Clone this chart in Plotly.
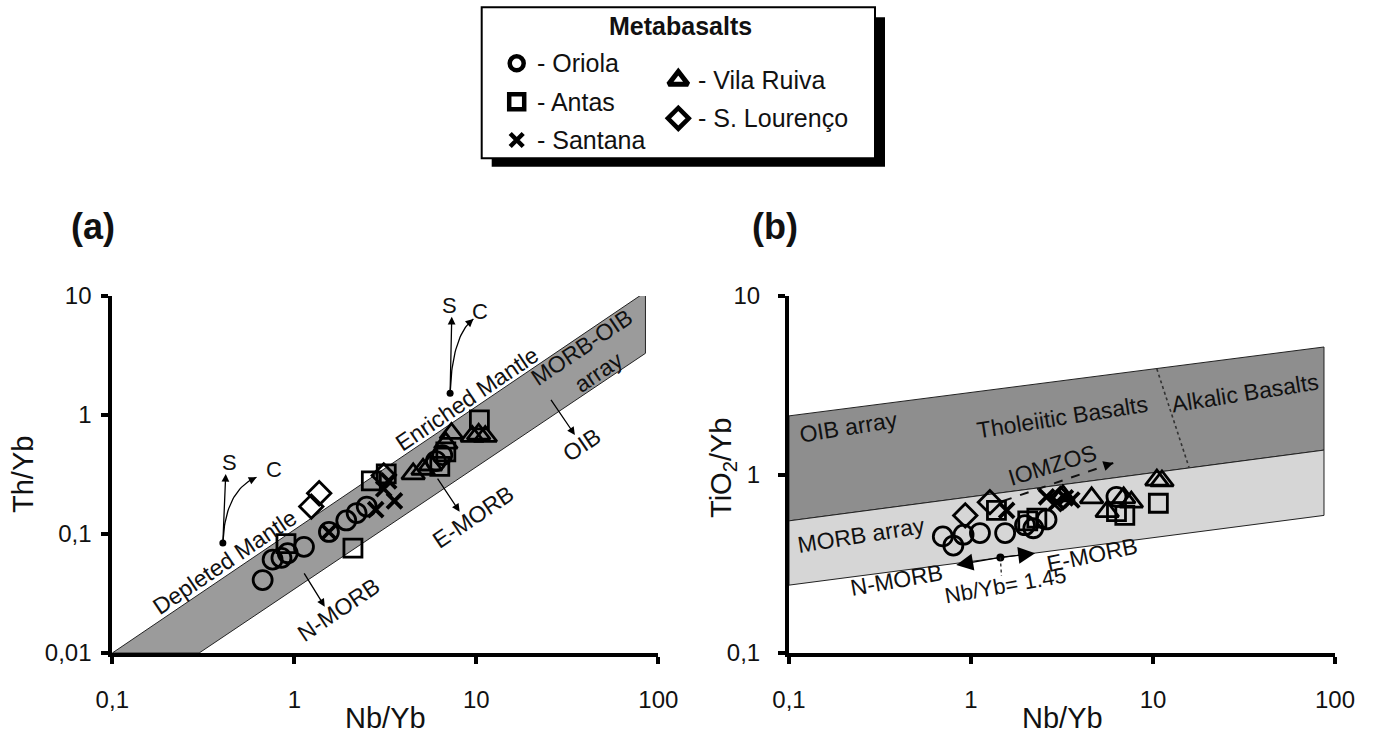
import numpy as np
import plotly.graph_objects as go

W, H = 1373, 735
FONT = "Liberation Sans"

# ---------------- data ----------------
# Panel (a): Nb/Yb vs Th/Yb
oriola_nb_a = [0.67, 0.76, 0.85, 0.92, 1.13, 1.55, 1.93, 2.2, 2.5, 6.0, 6.5]
oriola_th = [0.041, 0.061, 0.063, 0.069, 0.078, 0.104, 0.13, 0.15, 0.17, 0.41, 0.46]
antas_nb_a = [0.9, 2.1, 2.65, 3.2, 6.3, 6.8, 10.4]
antas_th = [0.083, 0.076, 0.28, 0.32, 0.37, 0.49, 0.91]
santana_nb_a = [1.55, 2.8, 3.1, 3.3, 3.55]
santana_th = [0.104, 0.16, 0.24, 0.28, 0.19]
vila_nb_a = [4.5, 5.1, 5.6, 6.8, 7.3, 9.5, 10.3, 11.2]
vila_th = [0.32, 0.35, 0.38, 0.58, 0.70, 0.66, 0.69, 0.66]
lour_nb_a = [1.24, 1.37, 3.1]
lour_th = [0.17, 0.22, 0.31]

# Panel (b): Nb/Yb vs TiO2/Yb
oriola_nb_b = [0.70, 0.80, 0.91, 1.12, 1.54, 1.98, 2.2, 2.6, 6.3]
oriola_ti = [0.45, 0.40, 0.46, 0.47, 0.47, 0.52, 0.50, 0.56, 0.75]
antas_nb_b = [1.38, 2.05, 2.3, 6.3, 7.0, 10.7]
antas_ti = [0.63, 0.55, 0.57, 0.62, 0.59, 0.69]
santana_nb_b = [1.57, 2.6, 2.96, 3.3, 3.58]
santana_ti = [0.63, 0.75, 0.70, 0.74, 0.72]
vila_nb_b = [3.2, 4.6, 5.6, 6.9, 7.6, 10.5, 11.2]
vila_ti = [0.76, 0.74, 0.62, 0.74, 0.70, 0.93, 0.92]
lour_nb_b = [0.93, 1.27, 3.1]
lour_ti = [0.59, 0.70, 0.73]

# reference arrays (boundary lines)
morb_oib_upper_x = [0.1, 85]
morb_oib_upper_y = [0.01, 10.8]
morb_oib_lower_x = [0.3, 85]
morb_oib_lower_y = [0.01, 3.3]
ti_x = [0.1, 87]
ti_top = [2.13, 5.18]
ti_mid = [0.55, 1.37]
ti_bot = [0.24, 0.59]
alk_div_x = [10.5, 15.8]
alk_div_y = [3.9, 1.09]

# axis ticks
x_ticks = [0.1, 1, 10, 100]
x_ticktext = ["0,1", "1", "10", "100"]
ya_ticks = [0.01, 0.1, 1, 10]
ya_ticktext = ["0,01", "0,1", "1", "10"]
yb_ticks = [0.1, 1, 10]
yb_ticktext = ["0,1", "1", "10"]

series = [
    ("Oriola", "circle-open", 19, 2.8),
    ("Antas", "square-open", 18, 2.8),
    ("Santana", "x-thin", 15, 3.8),
    ("Vila Ruiva", "triangle-up-open", 20, 2.8),
    ("S. Lourenço", "diamond-open", 18, 2.8),
]
data_a = {"Oriola": (oriola_nb_a, oriola_th), "Antas": (antas_nb_a, antas_th),
          "Santana": (santana_nb_a, santana_th), "Vila Ruiva": (vila_nb_a, vila_th),
          "S. Lourenço": (lour_nb_a, lour_th)}
data_b = {"Oriola": (oriola_nb_b, oriola_ti), "Antas": (antas_nb_b, antas_ti),
          "Santana": (santana_nb_b, santana_ti), "Vila Ruiva": (vila_nb_b, vila_ti),
          "S. Lourenço": (lour_nb_b, lour_ti)}

fig = go.Figure()
L = np.log10

# ---- bands ----
fig.add_trace(go.Scatter(
    x=[morb_oib_upper_x[0], morb_oib_upper_x[1], morb_oib_lower_x[1], morb_oib_lower_x[0], morb_oib_upper_x[0]],
    y=[morb_oib_upper_y[0], morb_oib_upper_y[1], morb_oib_lower_y[1], morb_oib_lower_y[0], morb_oib_upper_y[0]],
    fill="toself", fillcolor="#9b9b9b", mode="lines", line=dict(color="#222", width=1),
    xaxis="x", yaxis="y", hoverinfo="skip"))
fig.add_trace(go.Scatter(
    x=[ti_x[0], ti_x[1], ti_x[1], ti_x[0], ti_x[0]],
    y=[ti_top[0], ti_top[1], ti_mid[1], ti_mid[0], ti_top[0]],
    fill="toself", fillcolor="#8e8e8e", mode="lines", line=dict(color="#222", width=1),
    xaxis="x2", yaxis="y2", hoverinfo="skip"))
fig.add_trace(go.Scatter(
    x=[ti_x[0], ti_x[1], ti_x[1], ti_x[0], ti_x[0]],
    y=[ti_mid[0], ti_mid[1], ti_bot[1], ti_bot[0], ti_mid[0]],
    fill="toself", fillcolor="#d6d6d6", mode="lines", line=dict(color="#222", width=1),
    xaxis="x2", yaxis="y2", hoverinfo="skip"))
fig.add_trace(go.Scatter(x=alk_div_x, y=alk_div_y, mode="lines",
                         line=dict(color="#333", width=1.6, dash="dot"),
                         xaxis="x2", yaxis="y2", hoverinfo="skip"))


def bezier(p0, p1, p2, n=30):
    t = np.linspace(0, 1, n)[:, None]
    a, b, c = (np.log10(np.array(p)) for p in (p0, p1, p2))
    pts = (1 - t) ** 2 * a + 2 * (1 - t) * t * b + t ** 2 * c
    return 10 ** pts[:, 0], 10 ** pts[:, 1], 10 ** pts[-4]


annotations = []


def arrow(ax, tail, tip, head=2, size=1.0, width=1.3, logtail=False):
    xr, yr = ("x", "y") if ax == 1 else ("x2", "y2")
    annotations.append(dict(
        xref=xr, yref=yr, axref=xr, ayref=yr,
        x=L(tip[0]), y=L(tip[1]),
        ax=tail[0] if logtail else L(tail[0]), ay=tail[1] if logtail else L(tail[1]),
        showarrow=True, arrowhead=head, arrowsize=size, arrowwidth=width,
        arrowcolor="black", text="", standoff=0))


def label(ax, x, y, text, angle=0, size=23, **kw):
    xr, yr = ("x", "y") if ax == 1 else ("x2", "y2")
    annotations.append(dict(xref=xr, yref=yr, x=L(x), y=L(y), text=text, textangle=angle,
                            showarrow=False, font=dict(family=FONT, size=size, color="#111"), **kw))


# ---- source curves (S / C) in panel (a) ----
for dot, s_tip, c_ctrl, c_tip, s_lab, c_lab in [
    ((0.405, 0.084), (0.42, 0.32), (0.416, 0.234), (0.62, 0.30), (0.44, 0.40), (0.77, 0.35)),
    ((7.18, 1.52), (7.33, 6.7), (7.36, 4.7), (9.64, 6.4), (7.1, 8.4), (10.5, 7.4)),
]:
    bx, by, pre = bezier(dot, c_ctrl, c_tip)
    fig.add_trace(go.Scatter(x=bx, y=by, mode="lines", line=dict(color="black", width=1.3),
                             xaxis="x", yaxis="y", hoverinfo="skip"))
    fig.add_trace(go.Scatter(x=[dot[0]], y=[dot[1]], mode="markers",
                             marker=dict(color="black", size=7), xaxis="x", yaxis="y", hoverinfo="skip"))
    arrow(1, dot, s_tip, size=1.2)
    arrow(1, (L(pre[0]), L(pre[1])), c_tip, size=1.2, logtail=True)
    label(1, s_lab[0], s_lab[1], "S", size=22)
    label(1, c_lab[0], c_lab[1], "C", size=22)

# ---- IOMZOS dashed arrow, N/E-MORB arrows in panel (b) ----
iomzos_x = [1.5, 6.05]
iomzos_y = [0.71, 1.16]
fig.add_trace(go.Scatter(x=iomzos_x, y=iomzos_y, mode="lines",
                         line=dict(color="#111", width=2, dash="dash"),
                         xaxis="x2", yaxis="y2", hoverinfo="skip"))
arrow(2, (5.3, 1.11), (iomzos_x[1], iomzos_y[1]), head=2, size=1.1, width=1.8)

nb145 = (1.45, 0.343)
fig.add_trace(go.Scatter(x=[nb145[0]], y=[nb145[1]], mode="markers",
                         marker=dict(color="black", size=8), xaxis="x2", yaxis="y2", hoverinfo="skip"))
fig.add_trace(go.Scatter(x=[1.45, 1.47], y=[0.343, 0.27], mode="lines",
                         line=dict(color="#222", width=1.3, dash="dot"),
                         xaxis="x2", yaxis="y2", hoverinfo="skip"))
arrow(2, nb145, (2.25, 0.362), head=2, size=2.6, width=1.3)
arrow(2, nb145, (0.83, 0.311), head=2, size=2.6, width=1.3)

# ---- data markers ----
for name, sym, size, lw in series:
    for ax, d in (("", data_a), ("2", data_b)):
        xs, ys = d[name]
        fig.add_trace(go.Scatter(
            x=xs, y=ys, mode="markers", name=name,
            marker=dict(symbol=sym, size=size, color="black",
                        line=dict(color="black", width=lw)),
            xaxis="x" + ax, yaxis="y" + ax, showlegend=False))

# ---- arrows and labels panel (a) ----
A = -34
label(1, 0.415, 0.058, "Depleted Mantle", A)
label(1, 8.9, 1.36, "Enriched Mantle", A)
label(1, 42, 2.9, "MORB-OIB<br>array", A)
arrow(1, (25.4, 1.38), (34.8, 0.68), size=1.2)
label(1, 37.9, 0.56, "OIB", A)
arrow(1, (6.05, 0.30), (8.1, 0.154), size=1.2)
label(1, 9.6, 0.14, "E-MORB", A)
arrow(1, (1.12, 0.048), (1.47, 0.0245), size=1.2)
label(1, 1.74, 0.023, "N-MORB", A)

# ---- labels panel (b) ----
B = -9
label(2, 0.212, 1.85, "OIB array", B)
label(2, 3.2, 2.1, "Tholeiitic Basalts", B)
label(2, 32, 2.85, "Alkalic Basalts", B)
label(2, 0.25, 0.46, "MORB array", B)
label(2, 2.8, 1.13, "IOMZOS", -17)
label(2, 4.6, 0.354, "E-MORB", -12)
label(2, 0.39, 0.256, "N-MORB", -10)
label(2, 1.54, 0.24, "Nb/Yb= 1.45", -10, 22)

# ---- axis titles, panel letters (paper coords from pixels) ----
def px(x):
    return x / W


def py(y):
    return 1 - y / H


for x, y, t, ang, sz, bold in [
    (385, 718, "Nb/Yb", 0, 29, False),
    (1062, 718, "Nb/Yb", 0, 29, False),
    (23, 474, "Th/Yb", -90, 29, False),
    (723, 468, "TiO<sub>2</sub>/Yb", -90, 29, False),
    (93, 226, "(a)", 0, 36, True),
    (775, 226, "(b)", 0, 36, True),
]:
    annotations.append(dict(xref="paper", yref="paper", x=px(x), y=py(y),
                            text=f"<b>{t}</b>" if bold else t, textangle=ang, showarrow=False,
                            xanchor="center", yanchor="middle",
                            font=dict(family=FONT, size=sz, color="#111")))

# ---- legend box ----
shapes = [
    dict(type="rect", xref="paper", yref="paper", x0=px(491.7), x1=px(885), y0=py(166.7), y1=py(17.3),
         fillcolor="black", line=dict(width=0), layer="below"),
    dict(type="rect", xref="paper", yref="paper", x0=px(481.7), x1=px(875), y0=py(158.3), y1=py(7.3),
         fillcolor="white", line=dict(color="black", width=2), layer="below"),
]
leg_items = [
    ("Oriola", "circle-open", 516.7, 63.3, 14, 4.5),
    ("Antas", "square-open", 516.7, 101.7, 15, 4.5),
    ("Santana", "x-thin", 516.7, 140, 13, 4.5),
    ("Vila Ruiva", "triangle-up-open", 678.3, 80, 17, 5),
    ("S. Lourenço", "diamond-open", 678.3, 118.3, 16, 4.5),
]
for name, sym, x, y, sz, lw in leg_items:
    fig.add_trace(go.Scatter(x=[x], y=[y], mode="markers",
                             marker=dict(symbol=sym, size=sz, color="black", line=dict(color="black", width=lw)),
                             xaxis="x3", yaxis="y3", hoverinfo="skip"))
    annotations.append(dict(xref="x3", yref="y3", x=x + 18, y=y, text="- " + name, showarrow=False,
                            xanchor="left", yanchor="middle",
                            font=dict(family=FONT, size=25, color="#111")))
annotations.append(dict(xref="x3", yref="y3", x=680, y=26, text="<b>Metabasalts</b>", showarrow=False,
                        xanchor="center", yanchor="middle", font=dict(family=FONT, size=25, color="#111")))

axis_common = dict(type="log", showline=True, linewidth=4, linecolor="black", ticks="outside",
                   ticklen=7, tickwidth=4, tickcolor="black", showgrid=False, zeroline=False,
                   automargin=False,
                   tickfont=dict(family=FONT, size=24, color="#111"), tickmode="array")

dom_xa = [px(112.3), px(658.3)]
dom_xb = [px(789), px(1335)]
dom_y = [py(653), py(296)]

fig.update_layout(
    template="none",
    width=W, height=H, margin=dict(l=0, r=0, t=0, b=0, pad=0, autoexpand=False),
    paper_bgcolor="white", plot_bgcolor="rgba(0,0,0,0)", showlegend=False,
    xaxis=dict(axis_common, domain=dom_xa, range=[-1, 2], tickvals=x_ticks, ticktext=x_ticktext,
               anchor="y", ticklabelstandoff=15),
    yaxis=dict(axis_common, domain=dom_y, range=[-2, 1], tickvals=ya_ticks, ticktext=ya_ticktext,
               anchor="x", ticklabelstandoff=5),
    xaxis2=dict(axis_common, domain=dom_xb, range=[-1, 2], tickvals=x_ticks, ticktext=x_ticktext,
                anchor="y2", ticklabelstandoff=15),
    yaxis2=dict(axis_common, domain=dom_y, range=[-1, 1], tickvals=yb_ticks, ticktext=yb_ticktext,
                anchor="x2", ticklabelstandoff=13),
    xaxis3=dict(domain=[0, 1], range=[0, W], visible=False, anchor="y3", fixedrange=True, automargin=False),
    yaxis3=dict(domain=[0, 1], range=[H, 0], visible=False, anchor="x3", fixedrange=True, automargin=False),
    annotations=annotations, shapes=shapes,
)
for tr in fig.data:
    tr.showlegend = False

fig.write_html("out.html")
